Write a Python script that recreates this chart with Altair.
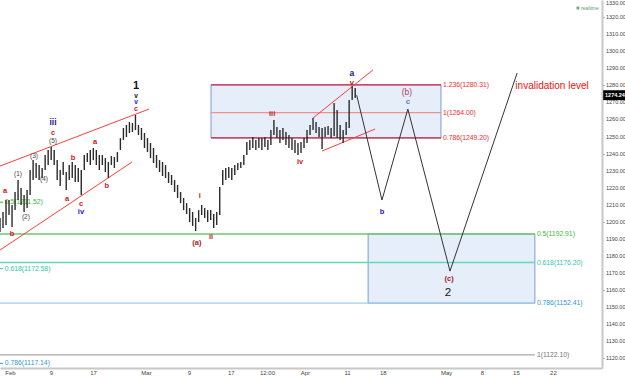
import altair as alt
import pandas as pd

# ---------------- price history (one bar per session index) ----------------
bar_low = [1194.1, 1196.4, 1198.2, 1204.0, 1197.0, 1206.9, 1212.8, 1209.9, 1205.8, 1208.1,
           1215.7, 1224.5, 1225.7, 1224.5, 1225.7, 1230.4, 1233.3, 1236.2, 1233.3, 1224.5,
           1221.0, 1227.5, 1218.7, 1224.5, 1225.7, 1223.4, 1223.4, 1215.7, 1230.4, 1235.1,
           1233.3, 1236.2, 1233.3, 1230.4, 1233.3, 1229.2, 1225.7, 1233.3, 1231.6, 1235.1,
           1242.1, 1248.0, 1249.7, 1252.1, 1252.7, 1253.8, 1250.9, 1248.0, 1243.3, 1240.9,
           1237.4, 1234.5, 1231.6, 1229.2, 1226.9, 1225.7, 1222.8, 1221.6, 1217.5, 1214.0,
           1211.0, 1206.9, 1204.6, 1199.9, 1197.6, 1194.6, 1199.9, 1204.0, 1202.3, 1199.9,
           1201.1, 1196.4, 1198.2, 1204.0, 1221.6, 1224.5, 1225.7, 1224.5, 1227.5, 1230.4,
           1231.6, 1233.3, 1239.2, 1242.1, 1243.3, 1242.1, 1243.3, 1242.1, 1243.9, 1242.1,
           1245.0, 1250.9, 1249.1, 1246.2, 1248.0, 1245.0, 1243.3, 1242.1, 1240.3, 1239.2,
           1240.3, 1243.3, 1246.2, 1250.9, 1253.8, 1252.1, 1249.7, 1242.7, 1249.7, 1250.9,
           1249.1, 1250.3, 1249.1, 1248.0, 1246.2, 1250.9, 1255.0, 1271.4, 1272.6]
bar_high = [1202.3, 1205.8, 1212.8, 1212.8, 1209.9, 1217.5, 1224.5, 1219.8, 1215.7, 1218.7,
            1230.4, 1236.2, 1234.5, 1233.3, 1231.6, 1239.2, 1242.1, 1243.9, 1242.1, 1236.2,
            1230.4, 1235.1, 1229.2, 1233.3, 1235.1, 1233.3, 1231.6, 1230.4, 1239.2, 1240.3,
            1242.1, 1243.3, 1242.1, 1239.2, 1239.2, 1237.4, 1235.1, 1238.6, 1238.0, 1240.9,
            1249.1, 1255.0, 1256.8, 1258.5, 1257.9, 1262.6, 1256.8, 1255.0, 1252.1, 1249.1,
            1246.2, 1243.3, 1239.2, 1236.2, 1235.1, 1233.3, 1229.2, 1227.5, 1224.5, 1221.6,
            1217.5, 1214.0, 1211.0, 1208.1, 1205.8, 1202.3, 1206.9, 1209.9, 1208.1, 1206.9,
            1206.9, 1204.6, 1205.8, 1220.4, 1230.4, 1231.6, 1232.1, 1231.6, 1233.3, 1234.5,
            1235.1, 1239.2, 1246.8, 1248.0, 1249.7, 1248.0, 1249.1, 1249.1, 1249.7, 1248.0,
            1253.8, 1259.7, 1255.6, 1253.8, 1255.0, 1252.7, 1250.9, 1249.1, 1248.0, 1246.2,
            1246.8, 1249.1, 1253.8, 1256.8, 1260.9, 1258.5, 1255.6, 1255.0, 1255.6, 1256.2,
            1255.0, 1269.6, 1265.5, 1256.8, 1253.8, 1258.5, 1271.4, 1279.6, 1278.4]
last_close = 1274.24

# date axis: session index of each tick and its text
tick_pos = [3.3, 16.9, 30.9, 48.5, 62.8, 76.7, 88.7, 101.3, 115.3, 127.2, 148.2, 160.1, 171.4, 183.7]
tick_lab = ["Feb", "9", "17", "Mar", "9", "17", "12:00", "Apr", "11", "18", "May", "8", "15", "22"]
price_ticks = list(range(1120, 1331, 10))

# projected path: start, b, c, (c), invalidation run
path_t = [118.5, 126.9, 135.5, 149.5, 171.8]
path_v = [last_close, 1212.8, 1266.1, 1171.2, 1287.2]

# fibonacci zones (start, end, low, high)
zone_t0 = [70.1, 122.3]
zone_t1 = [146.5, 177.7]
zone_lo = [1249.20, 1152.41]
zone_hi = [1280.31, 1192.91]

# fibonacci levels
lvl_value = [1280.31, 1264.00, 1249.20, 1192.91, 1176.20, 1152.41, 1122.10]
lvl_ratio = ["1.236", "1", "0.786", "0.5", "0.618", "0.786", "1"]
lvl_t0 = [70.1, 70.1, 70.1, 0, 0, 0, 0]
lvl_t1 = [146.5, 146.5, 146.5, 177.7, 177.7, 177.7, 177.7]
lvl_color = ["#d22b3d", "#f29090", "#c8283c", "#6cc86c", "#66d6b6", "#9fcdef", "#a8a8a8"]
lvl_text_color = ["#ee2b2b", "#ee2b2b", "#ee2b2b", "#3cb83c", "#2ec8a4", "#2f98d6", "#777777"]

# older retracement set whose labels sit at the left edge
old_value = [1211.52, 1172.58, 1117.14]
old_ratio = ["0.5", "0.618", "0.786"]
old_color = ["#3cb83c", "#2ec8a4", "#2f98d6"]

# trend lines (t0, v0, t1, v1)
trend_t0 = [0, 0, 104.0, 107.0]
trend_v0 = [1232.7, 1183.5, 1260.9, 1241.5]
trend_t1 = [49.5, 43.9, 123.9, 124.6]
trend_v1 = [1266.1, 1235.1, 1289.0, 1254.4]

# wave labels
wave_text = ["1", "v", "v", "c",
             "iii", "c", "(5)", "(3)", "(4)", "(1)", "(2)", "a", "b",
             "b", "a", "c", "iv", "a", "b",
             "(a)", "i", "ii", "iii", "iv", "a", "v",
             "b", "(b)", "c", "(c)", "2", "invalidation level"]
wave_t = [45.2, 45.2, 45.2, 45.2,
          17.6, 17.6, 17.6, 11.3, 14.6, 6.0, 8.6, 1.7, 4.0,
          24.3, 22.3, 26.9, 26.9, 31.6, 35.5,
          65.4, 66.4, 70.1, 90.4, 99.7, 116.9, 116.9,
          126.9, 135.2, 135.5, 149.2, 148.8, 183.4]
wave_v = [1279.6, 1273.8, 1270.0, 1266.2,
          1258.5, 1252.1, 1247.4, 1238.6, 1225.1, 1228.0, 1202.8, 1218.1, 1192.9,
          1237.4, 1213.4, 1210.5, 1205.8, 1246.8, 1221.0,
          1187.6, 1215.2, 1191.1, 1263.2, 1235.1, 1287.0, 1281.2,
          1205.8, 1276.1, 1270.2, 1166.5, 1158.3, 1279.6]
wave_kind = ["big", "black", "blue", "red",
             "navy", "red", "paren", "paren", "paren", "paren", "paren", "red", "red",
             "red", "red", "red", "blue", "red", "red",
             "maroon", "red", "red", "red", "red", "navy", "red",
             "blue", "pink", "lilac", "maroon", "two", "warn"]

# ---------------- styling ----------------
kind_style = {
    "big":    ("#111111", 11, "bold"),
    "black":  ("#111111", 6.5, "bold"),
    "blue":   ("#2020c8", 7.5, "bold"),
    "red":    ("#cc1414", 7.5, "bold"),
    "navy":   ("#16168e", 8.5, "bold"),
    "paren":  ("#444444", 6.5, "normal"),
    "maroon": ("#a3182a", 7.5, "bold"),
    "pink":   ("#b5405a", 8.5, "normal"),
    "lilac":  ("#6877cc", 8, "bold"),
    "two":    ("#111111", 11.5, "normal"),
    "warn":   ("#ee1111", 10, "normal"),
}
# the stacked markers above the first peak use a smaller face
small_marks = {1: 6.5, 2: 6.5, 3: 7}

X_DOMAIN = [0, 200]
Y_DOMAIN = [1114.4, 1330]
FONT = "Liberation Sans"

xs = alt.Scale(domain=X_DOMAIN, nice=False, zero=False)
ys = alt.Scale(domain=Y_DOMAIN, nice=False, zero=False)

pos_list = ",".join(str(p) for p in tick_pos)
lab_list = ",".join("'" + s + "'" for s in tick_lab)

x_axis = alt.Axis(values=tick_pos, labelExpr=f"[{lab_list}][indexof([{pos_list}], datum.value)]",
                  title=None)
# price axis: ticks from the axis, numbers drawn as a text layer beside it
y_axis = alt.Axis(values=price_ticks, orient="right", title=None, labels=False)

bars = pd.DataFrame({"t": list(range(len(bar_low))), "lo": bar_low, "hi": bar_high})
zones = pd.DataFrame({"t0": zone_t0, "t1": zone_t1, "lo": zone_lo, "hi": zone_hi})
levels = pd.DataFrame({"v": lvl_value, "t0": lvl_t0, "t1": lvl_t1, "c": lvl_color,
                       "tc": lvl_text_color,
                       "lab": [f"{r}({v:.2f})" for r, v in zip(lvl_ratio, lvl_value)]})
old = pd.DataFrame({"v": old_value, "c": old_color,
                    "lab": [f"{r}({v:.2f})" for r, v in zip(old_ratio, old_value)]})
trends = pd.DataFrame({"t0": trend_t0, "v0": trend_v0, "t1": trend_t1, "v1": trend_v1})
path = pd.DataFrame({"t": path_t, "v": path_v, "k": list(range(len(path_t)))})
waves = pd.DataFrame({"text": wave_text, "t": wave_t, "v": wave_v, "kind": wave_kind})
waves["color"] = [kind_style[k][0] for k in wave_kind]
waves["fs"] = [small_marks.get(i, kind_style[k][1]) for i, k in enumerate(wave_kind)]
waves["w"] = [kind_style[k][2] for k in wave_kind]
price_lab = pd.DataFrame({"v": price_ticks, "lab": [f"{v:.2f}" for v in price_ticks]})
top_price = max(price_ticks)

# shaded fibonacci zones
zone_layer = alt.Chart(zones).mark_rect(fill="#e6eef9", stroke="#7b9ad6", strokeWidth=1).encode(
    x=alt.X("t0:Q", scale=xs, axis=x_axis), x2="t1:Q",
    y=alt.Y("lo:Q", scale=ys, axis=y_axis), y2="hi:Q")

level_layer = alt.Chart(levels).mark_rule(strokeWidth=1.3).encode(
    x=alt.X("t0:Q", scale=xs), x2="t1:Q", y=alt.Y("v:Q", scale=ys),
    color=alt.Color("c:N", scale=None))

level_text = alt.Chart(levels).mark_text(align="left", baseline="middle", dx=2, fontSize=6.8,
                                         font=FONT).encode(
    x=alt.X("t1:Q", scale=xs), y=alt.Y("v:Q", scale=ys), text="lab:N",
    color=alt.Color("tc:N", scale=None))

old_dash = alt.Chart(old).mark_rule(strokeWidth=1).encode(
    x=alt.datum(0), x2=alt.datum(1.0), y=alt.Y("v:Q", scale=ys), color=alt.Color("c:N", scale=None))
old_text = alt.Chart(old).mark_text(align="left", baseline="middle", fontSize=6.8, font=FONT).encode(
    x=alt.datum(1.6), y=alt.Y("v:Q", scale=ys), text="lab:N", color=alt.Color("c:N", scale=None))

trend_layer = alt.Chart(trends).mark_rule(color="#ff3c3c", strokeWidth=1).encode(
    x=alt.X("t0:Q", scale=xs), x2="t1:Q", y=alt.Y("v0:Q", scale=ys), y2="v1:Q")

bar_layer = alt.Chart(bars).mark_rule(color="#2a2a2a", strokeWidth=1.4).encode(
    x=alt.X("t:Q", scale=xs), y=alt.Y("lo:Q", scale=ys), y2="hi:Q")

path_layer = alt.Chart(path).mark_line(color="#333333", strokeWidth=1).encode(
    x=alt.X("t:Q", scale=xs), y=alt.Y("v:Q", scale=ys), order="k:Q")

wave_bold = alt.Chart(waves).transform_filter("datum.w == 'bold'").mark_text(
    baseline="middle", align="center", fontWeight="bold", font=FONT).encode(
    x=alt.X("t:Q", scale=xs), y=alt.Y("v:Q", scale=ys), text="text:N",
    color=alt.Color("color:N", scale=None), size=alt.Size("fs:Q", scale=None))
wave_norm = alt.Chart(waves).transform_filter("datum.w == 'normal'").mark_text(
    baseline="middle", align="center", font=FONT).encode(
    x=alt.X("t:Q", scale=xs), y=alt.Y("v:Q", scale=ys), text="text:N",
    color=alt.Color("color:N", scale=None), size=alt.Size("fs:Q", scale=None))

# price scale numbers to the right of the plot; the topmost one hangs below its tick
price_text = alt.Chart(price_lab).transform_filter(f"datum.v < {top_price}").mark_text(
    align="left", baseline="middle", dx=4, fontSize=5.5, color="#444444", font=FONT).encode(
    x=alt.datum(200), y=alt.Y("v:Q", scale=ys), text="lab:N")
price_text_top = alt.Chart(price_lab).transform_filter(f"datum.v == {top_price}").mark_text(
    align="left", baseline="top", dx=4, dy=1, fontSize=5.5, color="#444444", font=FONT).encode(
    x=alt.datum(200), y=alt.Y("v:Q", scale=ys), text="lab:N")

# last-price tag on the price axis
tag = pd.DataFrame({"v": [last_close], "lab": [f"{last_close:.2f}"]})
tag_box = alt.Chart(tag).transform_calculate(
    lo="datum.v - 2.9", up="datum.v + 2.9").mark_rect(color="#000000").encode(
    x=alt.datum(200.4), x2=alt.datum(208), y=alt.Y("lo:Q", scale=ys), y2="up:Q")
tag_text = alt.Chart(tag).mark_text(color="#ffffff", align="left", baseline="middle", fontSize=5.5,
                                    font=FONT, fontWeight="bold").encode(
    x=alt.datum(201.0), y=alt.Y("v:Q", scale=ys), text="lab:N")

# feed-status marker
feed = pd.DataFrame({"t": [192.0], "v": [1325.3], "lab": ["realtime"]})
feed_dot = alt.Chart(feed).mark_point(filled=True, shape="square", size=8, color="#2a8a4a").encode(
    x=alt.X("t:Q", scale=xs), y=alt.Y("v:Q", scale=ys))
feed_text = alt.Chart(feed).mark_text(align="left", baseline="middle", dx=3, fontSize=5,
                                      color="#5a9a70", font=FONT).encode(
    x=alt.X("t:Q", scale=xs), y=alt.Y("v:Q", scale=ys), text="lab:N")

chart = alt.layer(
    zone_layer, level_layer, level_text, old_dash, old_text, trend_layer, bar_layer,
    path_layer, wave_bold, wave_norm, price_text, price_text_top, tag_box, tag_text,
    feed_dot, feed_text
).properties(
    width=602, height=368, autosize=alt.AutoSizeParams(type="none"),
    padding={"left": 0, "top": 0, "right": 23, "bottom": 8}, background="#ffffff"
).configure_view(stroke=None).configure_axisX(
    grid=False, ticks=False, labelPadding=1, labelFontSize=6, labelColor="#444",
    labelFont=FONT, domainColor="#c8c8c8", domainWidth=2, labelOverlap=False, title=None
).configure_axisY(
    grid=False, tickSize=2, tickColor="#888", domainColor="#c8c8c8", domainWidth=2, title=None
)

chart.save("out.html", embed_options={"renderer": "svg", "actions": False})
